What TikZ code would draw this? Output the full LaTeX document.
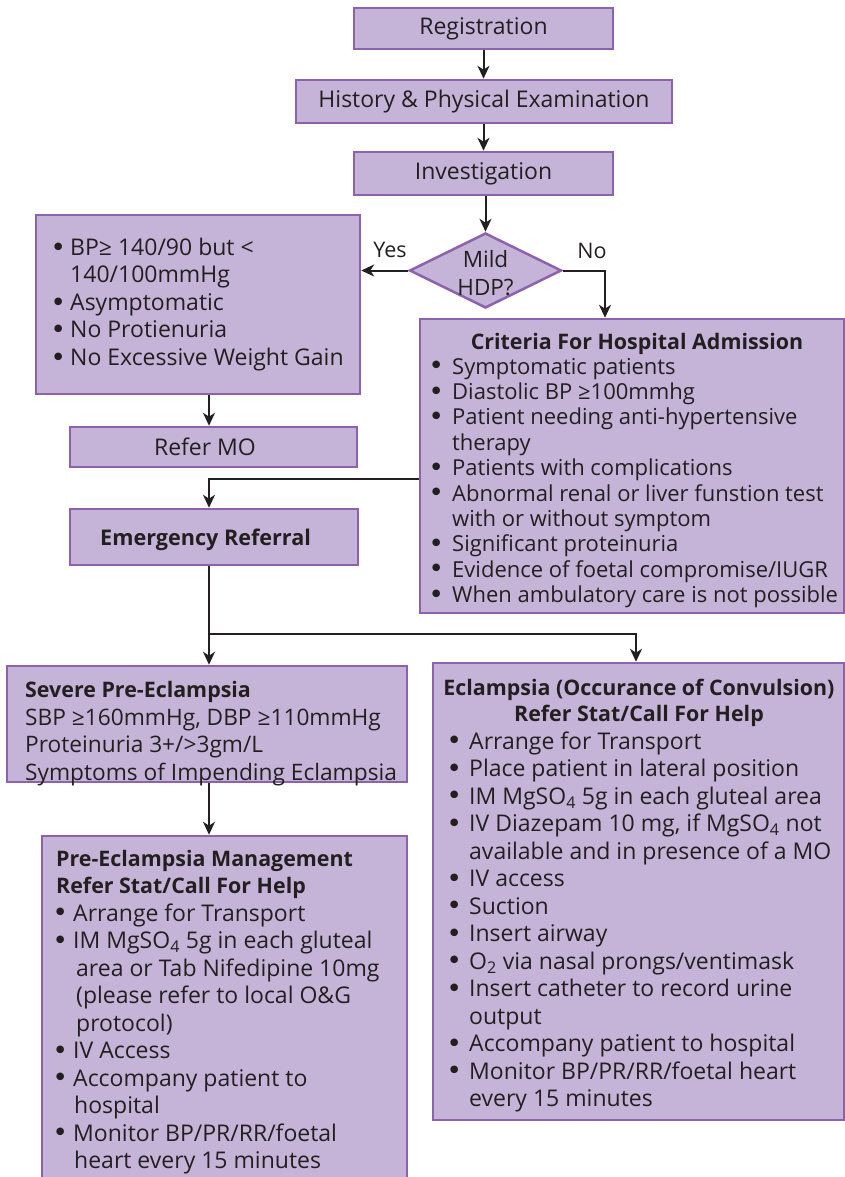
\documentclass[tikz,border=0pt]{standalone}
\usepackage{fontspec}
\setmainfont{Open Sans}
\newfontfamily\bulfont{DejaVu Sans}
\usetikzlibrary{arrows.meta,shapes.geometric}
\definecolor{boxfill}{RGB}{198,180,216}
\definecolor{boxline}{RGB}{140,98,172}
\definecolor{ink}{RGB}{35,31,32}
\newcommand{\bul}[1][16pt]{\makebox[#1][l]{\hspace*{-3.5pt}\raisebox{-0.6pt}{\bulfont\fontsize{26}{26}\selectfont •}}}
\newcommand{\bt}[1]{{\fontsize{21.4}{27.5}\selectfont\bfseries #1}}
\newcommand{\bx}[1]{\raisebox{-2pt}{#1}}
\begin{document}
\begin{tikzpicture}[x=1pt,y=-1pt,
  box/.style={draw=boxline,fill=boxfill,line width=2.5pt,inner sep=0pt,text=ink,
    font=\fontsize{23}{27.5}\selectfont},
  txt/.style={inner sep=0pt,align=left,text=ink,yshift=-2.5pt,font=\fontsize{23}{27.5}\selectfont},
  ttl/.style={inner sep=0pt,align=center,text=ink,yshift=-2.5pt,font=\fontsize{21.4}{25.5}\selectfont\bfseries},
  lbl/.style={inner sep=0pt,text=ink,yshift=-1pt,font=\fontsize{21.5}{25}\selectfont},
  arr/.style={draw=ink,line width=2pt,-{Stealth[length=13pt,width=12pt,inset=4pt]}}]
\useasboundingbox (0,0) rectangle (845,1177);
% boxes
\node[box,minimum width=259,minimum height=41] (reg) at (483.5,28.5) {\bx{Registration}};
\node[box,minimum width=376,minimum height=43] (hist) at (484,101.5) {\bx{History \& Physical Examination}};
\node[box,minimum width=259,minimum height=43] (inv) at (483.5,173.5) {\bx{Investigation}};
\node[draw=boxline,fill=boxfill,line width=2.5pt,shape=diamond,inner sep=0pt,
  minimum width=152,minimum height=75] (dec) at (485.5,270.5) {};
\node[txt,align=center,font=\fontsize{22.5}{28}\selectfont] (dect) at (dec.center) {Mild\\HDP?};
\node[box,minimum width=324,minimum height=179] (box1) at (198,304.5) {};
\node[box,minimum width=287,minimum height=40] (refer) at (213.5,447) {\bx{Refer MO\hspace*{17pt}}};
\node[box,minimum width=424,minimum height=294] (crit) at (632,466) {};
\node[box,minimum width=288,minimum height=56] (emerg) at (214,537) {};
\node[box,minimum width=400,minimum height=116] (severe) at (207,724) {};
\node[box,minimum width=365,minimum height=347] (pem) at (224.5,1009.5) {};
\node[box,minimum width=411,minimum height=457] (ecl) at (638.5,891.5) {};
% texts
\node[txt,anchor=west] (box1t) at (54,302) {\bul BP≥ 140/90 but <\\
\hspace*{16pt}140/100mmHg\\
\bul Asymptomatic\\
\bul No Protienuria\\
\bul No Excessive Weight Gain};
\node[ttl] (critttl) at (637,341) {Criteria For Hospital Admission};
\node[txt,anchor=west,font=\fontsize{22}{25.4}\selectfont] (critt) at (432,480.5) {\bul[20pt]Symptomatic patients\\
\bul[20pt]Diastolic BP ≥100mmhg\\
\bul[20pt]Patient needing anti-hypertensive\\
\hspace*{20pt}therapy\\
\bul[20pt]Patients with complications\\
\bul[20pt]Abnormal renal or liver funstion test\\
\hspace*{20pt}with or without symptom\\
\bul[20pt]Significant proteinuria\\
\bul[20pt]Evidence of foetal compromise/IUGR\\
\bul[20pt]When ambulatory care is not possible};
\node[txt,anchor=west,font=\fontsize{21.6}{27.5}\selectfont\bfseries] (emergt) at (100,537) {Emergency Referral};
\node[txt,anchor=west,font=\fontsize{22.7}{27.5}\selectfont] (severet) at (25,731) {\bt{Severe Pre-Eclampsia}\\
SBP ≥160mmHg, DBP ≥110mmHg\\
Proteinuria 3+/>3gm/L\\
Symptoms of Impending Eclampsia};
\node[txt,anchor=west] (pemt) at (56,1009.5) {\bt{Pre-Eclampsia Management}\\
\bt{Refer Stat/Call For Help}\\
\bul[17pt]Arrange for Transport\\
\bul[17pt]IM MgSO\textsubscript{4} 5g in each gluteal\\
\hspace*{20pt}area or Tab Nifedipine 10mg\\
\hspace*{20pt}(please refer to local O\&G\\
\hspace*{20pt}protocol)\\
\bul[17pt]IV Access\\
\bul[17pt]Accompany patient to\\
\hspace*{18pt}hospital\\
\bul[17pt]Monitor BP/PR/RR/foetal\\
\hspace*{18pt}heart every 15 minutes};
\node[ttl] (eclttl) at (639,700.5) {Eclampsia (Occurance of Convulsion)\\Refer Stat/Call For Help};
\node[txt,anchor=west] (eclt) at (450,919.5) {\bul[19pt]Arrange for Transport\\
\bul[19pt]Place patient in lateral position\\
\bul[19pt]IM MgSO\textsubscript{4} 5g in each gluteal area\\
\bul[19pt]IV Diazepam 10 mg, if MgSO\textsubscript{4} not\\
\hspace*{19pt}available and in presence of a MO\\
\bul[19pt]IV access\\
\bul[19pt]Suction\\
\bul[19pt]Insert airway\\
\bul[19pt]O\textsubscript{2} via nasal prongs/ventimask\\
\bul[19pt]Insert catheter to record urine\\
\hspace*{19pt}output\\
\bul[19pt]Accompany patient to hospital\\
\bul[19pt]Monitor BP/PR/RR/foetal heart\\
\hspace*{19pt}every 15 minutes};
% labels
\node[lbl] (yes) at (390,249) {Yes};
\node[lbl] (no) at (592,250) {No};
% connectors
\coordinate (colx) at (209,0);
\coordinate (nox) at (605,0);
\coordinate (eclx) at (636,0);
\coordinate (j1) at (209,479);
\coordinate (j2) at (209,634);
\draw[arr] (reg.south) -- (reg.south |- hist.north);
\draw[arr] (inv.north |- hist.south) -- (inv.north);
\draw[arr] (dec.north |- inv.south) -- (dec.north);
\draw[arr] (dec.west) -- (dec.west -| box1.east);
\draw[arr] (dec.east) -| (nox |- crit.north);
\draw[arr] (box1.south -| colx) -- (refer.north -| colx);
\draw[arr] (j1 -| crit.west) -- (j1) -- (emerg.north -| j1);
\draw[arr] (emerg.south -| colx) -- (severe.north -| colx);
\draw[arr] (j2) -| (eclx |- ecl.north);
\draw[arr] (severe.south -| colx) -- (pem.north -| colx);
\end{tikzpicture}
\end{document}
